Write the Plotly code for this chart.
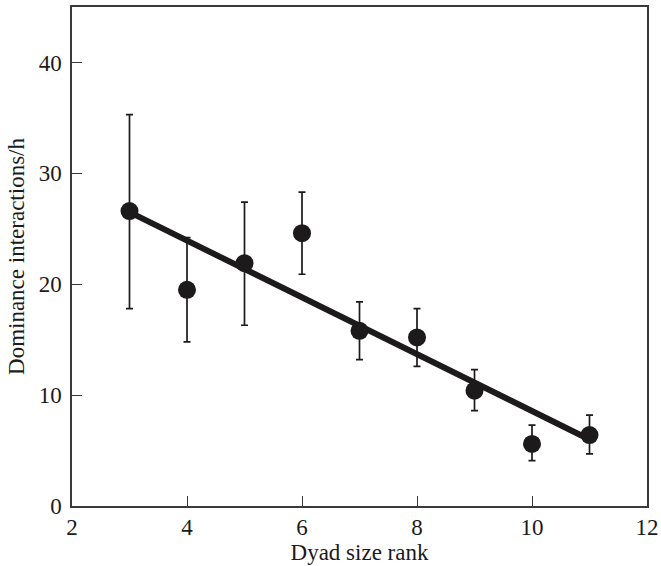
import plotly.graph_objects as go

rank = [3, 4, 5, 6, 7, 8, 9, 10, 11]
rate = [26.6, 19.5, 21.9, 24.6, 15.8, 15.2, 10.4, 5.6, 6.4]
err_hi = [35.3, 24.2, 27.4, 28.3, 18.4, 17.8, 12.3, 7.3, 8.2]
err_lo = [17.8, 14.8, 16.3, 20.9, 13.2, 12.6, 8.6, 4.1, 4.7]
fit_x = [3, 11]
fit_y = [26.5, 6.0]

plus = [h - m for h, m in zip(err_hi, rate)]
minus = [m - l for m, l in zip(rate, err_lo)]

ink = "#1c1a1b"
axc = "#3a3a3a"
font = "Liberation Serif"

fig = go.Figure()
fig.add_trace(go.Scatter(x=fit_x, y=fit_y, mode="lines",
                         line=dict(color=ink, width=6), hoverinfo="skip"))
fig.add_trace(go.Scatter(
    x=rank, y=rate, mode="markers",
    marker=dict(color=ink, size=18),
    error_y=dict(type="data", symmetric=False, array=plus, arrayminus=minus,
                 color=ink, thickness=1.7, width=3.5),
))

fig.update_layout(
    width=661, height=566,
    margin=dict(l=72, r=14, t=7, b=60),
    plot_bgcolor="white", paper_bgcolor="white",
    showlegend=False,
    font=dict(family=font, size=23, color=ink),
)
fig.update_xaxes(
    range=[2, 12], tickvals=[2, 4, 6, 8, 10, 12],
    ticks="inside", ticklen=10, tickwidth=1.2, tickcolor=axc,
    showline=True, linecolor=axc, linewidth=1.5, mirror=True,
    showgrid=False, zeroline=False, automargin=False,
    ticklabeloverflow="allow",
    title=dict(text="Dyad size rank", font=dict(size=23, family=font), standoff=2),
)
fig.update_yaxes(
    range=[0, 45], tickvals=[0, 10, 20, 30, 40],
    ticks="inside", ticklen=10, tickwidth=1.2, tickcolor=axc,
    showline=True, linecolor=axc, linewidth=1.5, mirror=True,
    showgrid=False, zeroline=False, ticklabelstandoff=4, automargin=False,
    ticklabeloverflow="allow",
    title=dict(text="Dominance interactions/h", font=dict(size=23, family=font), standoff=8),
)

fig.write_html("out.html",
               config={"displayModeBar": False},
               post_script="document.body.style.margin='0px';document.body.style.overflow='hidden';")
